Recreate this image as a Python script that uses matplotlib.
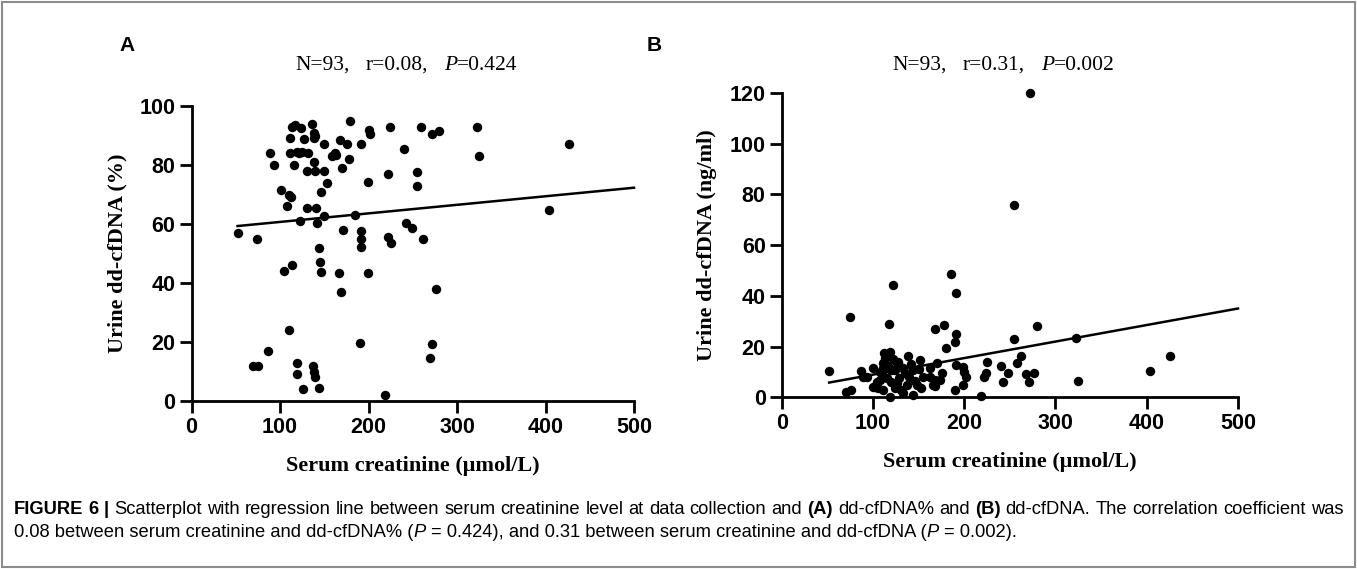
import matplotlib
matplotlib.use("Agg")
import matplotlib.pyplot as plt
from matplotlib.font_manager import FontProperties
from matplotlib.transforms import IdentityTransform
from matplotlib.patches import Rectangle
import numpy as np

# ---------------- data ----------------
creat_A = [52, 74, 89, 93, 101, 110, 112, 108, 113, 117, 124, 136, 111, 127, 138, 138, 111, 119, 124.5, 132,
           116, 130, 138, 140, 150, 159, 162, 168, 179, 176, 178, 170, 150, 153, 146, 130, 141, 123, 142, 150,
           171, 185, 144, 145, 146, 104.5, 113, 167, 169, 110, 86, 69, 75, 119, 119, 126, 137, 138, 140, 144,
           200, 202, 224, 259, 272, 280, 323, 325, 427, 404, 191, 240, 222, 199, 255, 255, 191, 191, 191, 222,
           225, 242, 249, 262, 199, 276, 190, 272, 269, 219, 121, 139, 163]
pct_A = [57, 55, 84, 80, 71.5, 70, 69, 66, 93, 93.5, 92.5, 94, 89, 88.7, 91, 89, 84, 84.5, 84.5, 84,
         80, 78, 81, 78, 87, 83, 84, 88.5, 95, 87, 82, 79, 78, 74, 71, 65.5, 65.5, 61, 60.5, 62.7,
         58, 63, 52, 47, 43.7, 44, 46, 43.5, 37, 24, 17, 11.7, 12, 12.8, 9, 4, 11.7, 10, 8, 4.5,
         92, 90.4, 93, 93, 90.4, 91.5, 93, 83, 87, 64.7, 87, 85.4, 77, 74.3, 77.5, 73, 57.7, 55, 52.3, 55.7,
         53.7, 60.2, 58.5, 55, 43.5, 38, 19.5, 19.4, 14.7, 2, 84, 90, 83.5]

creat_B = [272, 255, 185, 122, 191, 75, 118, 280, 168, 178,
           191, 190, 180, 255, 322, 262, 258, 240, 248, 242,
           268, 276, 271, 325, 404, 426, 225, 224, 222, 218,
           191, 199, 200, 202, 199, 190, 170, 176, 168, 168,
           162, 162, 52, 87, 89, 70, 76, 118.5, 113, 111,
           110, 127.6, 138, 151, 102, 107.5, 125.8, 124, 112, 93,
           99.5, 105.7, 111,
           100, 107.5, 120, 133, 144, 173, 166, 104, 115, 129,
           140, 137, 148, 124, 133, 144, 153, 155, 118.5, 111.2,
           116, 122, 130, 135, 142, 146, 126, 131, 120, 150]
conc_B = [120, 76, 48.5, 44.3, 41, 31.8, 29, 28, 27, 28.5,
          25, 21.7, 19.6, 23, 23.5, 16.4, 13.4, 12.5, 9.7, 6.2,
          9.2, 9.7, 6.2, 6.6, 10.4, 16.3, 14, 9.7, 8, 0.5,
          12.7, 12, 10, 8, 5, 3, 13.4, 9.5, 6.8, 4.5,
          11.4, 8, 10.5, 10.5, 8, 2, 3, 18, 15.4, 11.4,
          10, 14, 16.3, 14.7, 4, 6.8, 13.4, 10.8, 17.4, 7.9,
          4.2, 3.5, 2.9,
          11.4, 10, 10.8, 11.4, 10.8, 6.8, 4.9, 6.2, 7.5, 7.5,
          8, 4.9, 4.9, 3.5, 1.6, 0.9, 3.5, 8, 0.3, 13.4,
          12.5, 15, 12, 9.5, 13, 6.5, 5.5, 3, 6, 11]

# regression lines: (slope, intercept)
fit_A = (0.029, 57.8)
fit_B = (0.0652, 2.42)

xticks = [0, 100, 200, 300, 400, 500]
yticks_A = [0, 20, 40, 60, 80, 100]
yticks_B = [0, 20, 40, 60, 80, 100, 120]
n_text = "N=93,"
r_texts = ["r=0.08,", "r=0.31,"]
p_texts = ["=0.424", "=0.002"]
ylabels = ["Urine dd-cfDNA (%)", "Urine dd-cfDNA (ng/ml)"]
xlabel = "Serum creatinine (\u03bcmol/L)"

# ---------------- figure ----------------
W, H = 1357, 569
fig = plt.figure(figsize=(W / 100, H / 100), dpi=100)
fig.patch.set_facecolor("white")

tick_fp = FontProperties(family=["Liberation Sans"], weight="bold", size=15.5)
lab_fp = FontProperties(family=["Liberation Serif"], weight="bold", size=16)
ttl_fp = FontProperties(family=["Liberation Serif"], size=15.5)
ttl_it = FontProperties(family=["Liberation Serif"], style="italic", size=15.5)
pan_fp = FontProperties(family=["Liberation Sans"], weight="bold", size=15)


def ax_rect(x0, x1, y0, y1):
    return [x0 / W, 1 - y0 / H, (x1 - x0) / W, (y0 - y1) / H]


axA = fig.add_axes(ax_rect(191.5, 634, 401, 106))
axB = fig.add_axes(ax_rect(781.7, 1238, 397.3, 93))

for ax, xs, ys, fit, yt, ylab in [(axA, creat_A, pct_A, fit_A, yticks_A, ylabels[0]),
                                  (axB, creat_B, conc_B, fit_B, yticks_B, ylabels[1])]:
    ax.scatter(xs, ys, s=46, color="black", zorder=3, clip_on=False, linewidths=0)
    lx = np.array([min(xs), 500])
    ax.plot(lx, fit[0] * lx + fit[1], color="black", lw=1.8, zorder=2, clip_on=False)
    ax.set_xlim(0, 500)
    ax.set_ylim(yt[0], yt[-1])
    ax.set_xticks(xticks)
    ax.set_yticks(yt)
    ax.set_xticklabels([str(v) for v in xticks], fontproperties=tick_fp)
    ax.set_yticklabels([str(v) for v in yt], fontproperties=tick_fp)
    for side in ["top", "right"]:
        ax.spines[side].set_visible(False)
    for side in ["left", "bottom"]:
        ax.spines[side].set_linewidth(2.0)
        ax.spines[side].set_capstyle("projecting")
    ax.tick_params(direction="out", length=8.5, width=2.0, pad=3, colors="black")
    ax.set_xlabel(xlabel, fontproperties=lab_fp, labelpad=13)
    ax.set_ylabel(ylab, fontproperties=lab_fp, labelpad=9)
    ax.patch.set_alpha(0)

renderer = fig.canvas.get_renderer()


def twidth(s, fp):
    t = fig.text(0, 0, s, fontproperties=fp, transform=IdentityTransform())
    w = t.get_window_extent(renderer).width
    t.remove()
    return w


def spacew(fp):
    return twidth("a a", fp) - twidth("aa", fp)


def rich(x, y_top, pieces, right=None):
    """pieces: list of (text, fp, leading_space_count); optional justification to `right`."""
    ws = []
    total = 0
    nsp = 0
    for s, fp, sp in pieces:
        w = twidth(s, fp)
        gap = sp * spacew(fp)
        ws.append((w, gap))
        total += w + gap
        nsp += sp + s.count(" ")
    extra = 0
    if right is not None and total < right - x:
        extra = (right - x - total) / max(nsp, 1)
    cx = x
    y = H - y_top
    for (s, fp, sp), (w, gap) in zip(pieces, ws):
        cx += gap + sp * extra
        if extra > 0 and " " in s:
            words = s.split(" ")
            sw = spacew(fp)
            for i, wd in enumerate(words):
                if i > 0:
                    cx += sw + extra
                fig.text(cx, y, wd, fontproperties=fp, transform=IdentityTransform(), va="baseline", ha="left")
                cx += twidth(wd, fp) if wd else 0
        else:
            fig.text(cx, y, s, fontproperties=fp, transform=IdentityTransform(), va="baseline", ha="left")
            cx += w


# panel titles
for x0, r_t, p_t in [(295, r_texts[0], p_texts[0]), (892, r_texts[1], p_texts[1])]:
    rich(x0, 70, [(n_text, ttl_fp, 0), (r_t, ttl_fp, 3), ("P", ttl_it, 3), (p_t, ttl_fp, 0)])

# panel letters
fig.text(119, H - 51, "A", fontproperties=pan_fp, transform=IdentityTransform())
fig.text(647, H - 51, "B", fontproperties=pan_fp, transform=IdentityTransform())

# caption
cap_r = FontProperties(family=["Liberation Sans"], size=13.2)
cap_b = FontProperties(family=["Liberation Sans"], weight="bold", size=13.2)
cap_i = FontProperties(family=["Liberation Sans"], style="italic", size=13.2)
rich(14, 514, [("FIGURE 6 |", cap_b, 0),
               ("Scatterplot with regression line between serum creatinine level at data collection and", cap_r, 1),
               ("(A)", cap_b, 1), ("dd-cfDNA% and", cap_r, 1), ("(B)", cap_b, 1),
               ("dd-cfDNA. The correlation coefficient was", cap_r, 1)], right=1343)
rich(14, 537, [("0.08 between serum creatinine and dd-cfDNA% (", cap_r, 0), ("P", cap_i, 0),
               ("= 0.424), and 0.31 between serum creatinine and dd-cfDNA (", cap_r, 1), ("P", cap_i, 0),
               ("= 0.002).", cap_r, 1)])

# outer frame
fig.add_artist(Rectangle((2 / W, 2 / H), (W - 4) / W, (H - 4) / H, transform=fig.transFigure,
                         fill=False, edgecolor="#8c8c8c", lw=1.5))

fig.savefig("out.png", dpi=100, facecolor="white")
